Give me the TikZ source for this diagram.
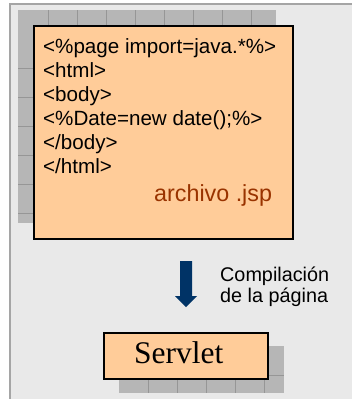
\documentclass[tikz,border=0pt]{standalone}
\usepackage{fontspec}
\setmainfont{Liberation Serif}
\newfontfamily\arialfont{Liberation Sans}
\definecolor{PanelGray}{RGB}{233,233,233}
\definecolor{FrameGray}{RGB}{165,165,165}
\definecolor{ShadowGray}{RGB}{182,182,182}
\definecolor{GridGray}{RGB}{150,150,150}
\definecolor{JspOrange}{RGB}{255,204,153}
\definecolor{FileBrown}{RGB}{153,51,0}
\definecolor{ArrowNavy}{RGB}{0,51,102}
\usetikzlibrary{positioning}

\begin{document}
\begin{tikzpicture}[x=1pt,y=-1pt,
  filebox/.style={draw=black,line width=2pt,fill=JspOrange,inner sep=0pt},
  codeline/.style={anchor=base west,inner sep=0pt,font=\arialfont\fontsize{20.6}{24}\selectfont}]
\useasboundingbox (0,0) rectangle (352,399);
% panel
\fill[PanelGray] (10,4) rectangle (352,399);
\draw[FrameGray,line width=2pt] (10,399) -- (10,4) -- (352,4);
% shadow of the jsp file
\fill[ShadowGray] (18,10) rectangle (276,223);
\foreach \gx in {48,77,...,251} \draw[GridGray,thin] (\gx,10) -- (\gx,223);
\foreach \gy in {68,97,...,214} \draw[GridGray,thin] (18,\gy) -- (276,\gy);
% jsp file
\node[filebox,anchor=north west,minimum width=259pt,minimum height=213pt] (jsp) at (33,25) {};
\foreach \codetext [count=\i] in {{<\%page import=java.*\%>},{<html>},{<body>},{<\%Date=new date();\%>},{</body>},{</html>}}
  \node[codeline] (code\i) at (43,{29+24*\i}) {\codetext};
\node[codeline,text=FileBrown,font=\arialfont\fontsize{23.3}{24}\selectfont] (jspname) at (154,201) {archivo .jsp};
% compile arrow
\fill[ArrowNavy] (180,261) -- (192,261) -- (192,296) -- (197,296) -- (186,307) -- (175,296) -- (180,296) -- cycle;
\node[codeline,font=\arialfont\fontsize{19.8}{22}\selectfont] (compile1) at (220,281) {Compilación};
\node[codeline,font=\arialfont\fontsize{19.8}{22}\selectfont] (compile2) at (220,302) {de la página};
% shadow of the servlet
\fill[ShadowGray] (119,346) rectangle (284,393);
\foreach \gx in {148,177,...,264} \draw[GridGray,thin] (\gx,346) -- (\gx,393);
\draw[GridGray,thin] (119,375) -- (284,375);
% servlet
\node[filebox,anchor=north west,minimum width=164pt,minimum height=46pt] (servlet) at (103,332) {};
\node[anchor=base west,inner sep=0pt,font=\fontsize{31.5}{31.5}\selectfont] (servletname) at (134,363) {Servlet};
\end{tikzpicture}
\end{document}
